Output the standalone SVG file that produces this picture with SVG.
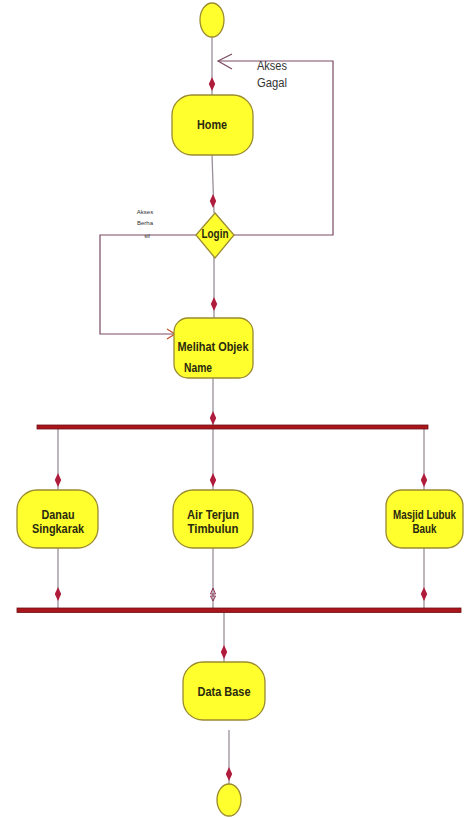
<svg xmlns="http://www.w3.org/2000/svg" xmlns:xlink="http://www.w3.org/1999/xlink" width="467" height="818" viewBox="0 0 467 818">
<style>
.node{fill:#ffff2e;stroke:#9a8a30;stroke-width:1.3}
.lbl{font-family:"Liberation Sans",Arial,sans-serif;font-size:13px;font-weight:bold;fill:#2a2a10;text-anchor:middle}
.small{font-family:"Liberation Sans",Arial,sans-serif;fill:#333;text-anchor:middle}
.ln{fill:none;stroke:#9a8f98;stroke-width:1.3}
.ln2{fill:none;stroke:#7a4a62;stroke-width:1.2}
.bar{fill:#a8161c;stroke:#6e1014;stroke-width:0.8}
.dm{fill:#b01c3c}
</style>
<defs>
<path id="dm" class="dm" d="M0,-7 L3.2,0 L0,7 L-3.2,0Z"/>
</defs>
<rect width="467" height="818" fill="#ffffff"/>
<g id="connectors">
<line class="ln" x1="212" y1="37" x2="212" y2="95"/>
<use xlink:href="#dm" x="212" y="84"/>
<polyline class="ln2" points="212,235 333,235 333,61 218,61"/>
<polyline class="ln2" points="232,54 218,61 232,69"/>
<line class="ln" x1="212" y1="155" x2="214" y2="213"/>
<use xlink:href="#dm" x="213" y="201"/>
<polyline class="ln2" points="196,235 100,235 100,334 175,334"/>
<polyline fill="none" stroke="#c0502a" stroke-width="1.2" points="167,329 175,334 167,339"/>
<line class="ln" x1="214" y1="257" x2="214" y2="318"/>
<use xlink:href="#dm" x="214" y="304"/>
<line class="ln" x1="213" y1="378" x2="213" y2="427"/>
<use xlink:href="#dm" x="213" y="418"/>
<line class="ln" x1="58" y1="427" x2="58" y2="490"/>
<line class="ln" x1="213" y1="427" x2="213" y2="490"/>
<line class="ln" x1="424" y1="427" x2="424" y2="490"/>
<use xlink:href="#dm" x="58" y="480"/>
<use xlink:href="#dm" x="213" y="480"/>
<use xlink:href="#dm" x="424" y="480"/>
<line class="ln" x1="58" y1="548" x2="58" y2="609"/>
<line class="ln" x1="213" y1="548" x2="213" y2="609"/>
<line class="ln" x1="424" y1="548" x2="424" y2="609"/>
<use xlink:href="#dm" x="58" y="594"/>
<use xlink:href="#dm" x="424" y="594"/>
<path d="M213,588 L215.5,594 L210.5,594Z M213,601 L215.5,596 L210.5,596Z" fill="none" stroke="#8a3050" stroke-width="1"/>
<line class="ln" x1="224" y1="611" x2="224" y2="662"/>
<use xlink:href="#dm" x="224" y="652"/>
<line class="ln" x1="229" y1="730" x2="229" y2="784"/>
<use xlink:href="#dm" x="229" y="774"/>
<text class="small" x="272" y="70" font-size="12" textLength="30" lengthAdjust="spacingAndGlyphs">Akses</text>
<text class="small" x="272" y="87" font-size="12" textLength="30" lengthAdjust="spacingAndGlyphs">Gagal</text>
<text class="small" x="145" y="214" font-size="6">Akses</text>
<text class="small" x="145" y="225" font-size="6">Berha</text>
<text class="small" x="147" y="238" font-size="6">sil</text>
</g>
<g id="start"><ellipse class="node" cx="212" cy="20" rx="12" ry="17"/></g>
<g id="home"><rect class="node" x="172" y="95" width="81" height="60" rx="20"/><text class="lbl" x="212" y="129" textLength="30" lengthAdjust="spacingAndGlyphs">Home</text></g>
<g id="login"><polygon class="node" points="215,213 234,235 215,258 196,235"/><text class="lbl" x="215" y="238" textLength="27" lengthAdjust="spacingAndGlyphs">Login</text></g>
<g id="melihat"><rect class="node" x="174" y="318" width="79" height="60" rx="14"/><text class="lbl" x="213" y="351" textLength="71" lengthAdjust="spacingAndGlyphs">Melihat Objek</text><text class="lbl" x="198" y="372" textLength="28" lengthAdjust="spacingAndGlyphs">Name</text></g>
<g id="fork"><rect class="bar" x="37" y="425" width="391" height="4"/></g>
<g id="danau"><rect class="node" x="17" y="490" width="81" height="58" rx="20"/><text class="lbl" x="58" y="519" textLength="33" lengthAdjust="spacingAndGlyphs">Danau</text><text class="lbl" x="58" y="533" textLength="52" lengthAdjust="spacingAndGlyphs">Singkarak</text></g>
<g id="airterjun"><rect class="node" x="173" y="490" width="80" height="58" rx="20"/><text class="lbl" x="213" y="519" textLength="52" lengthAdjust="spacingAndGlyphs">Air Terjun</text><text class="lbl" x="213" y="533" textLength="51" lengthAdjust="spacingAndGlyphs">Timbulun</text></g>
<g id="masjid"><rect class="node" x="386" y="490" width="77" height="58" rx="16"/><text class="lbl" x="424.5" y="519" font-size="11" textLength="63" lengthAdjust="spacingAndGlyphs">Masjid Lubuk</text><text class="lbl" x="424.5" y="533" textLength="24" lengthAdjust="spacingAndGlyphs">Bauk</text></g>
<g id="join"><rect class="bar" x="17" y="608" width="444" height="4.5"/></g>
<g id="database"><rect class="node" x="183" y="662" width="82" height="58" rx="20"/><text class="lbl" x="224" y="696" textLength="53" lengthAdjust="spacingAndGlyphs">Data Base</text></g>
<g id="end"><ellipse class="node" cx="229" cy="800" rx="12" ry="16"/></g>
</svg>
